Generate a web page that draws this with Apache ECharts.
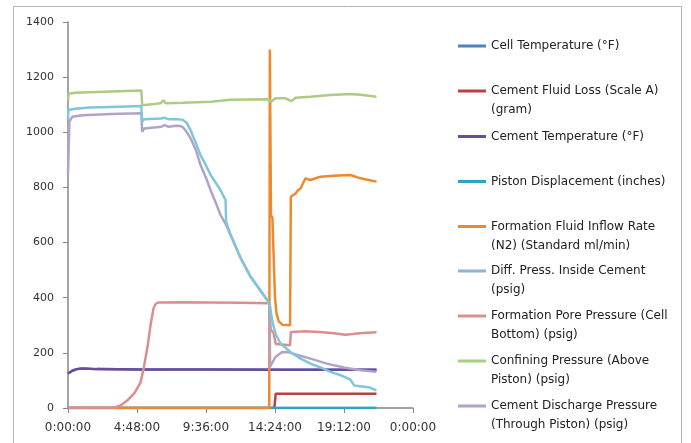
<!DOCTYPE html>
<html><head><meta charset="utf-8">
<script src="https://cdn.jsdelivr.net/npm/echarts@6/dist/echarts.min.js"></script>
<style>html,body{margin:0;padding:0;background:#fff}#c{width:691px;height:443px}</style>
</head><body><div id="c"></div>
<script>
// x values are elapsed hours
const xTickLabels = ['0:00:00','4:48:00','9:36:00','14:24:00','19:12:00','0:00:00'];
const yTicks = [0,200,400,600,800,1000,1200,1400];

const legendNames = [
  'Cell Temperature (°F)',
  'Cement Fluid Loss (Scale A)\n(gram)',
  'Cement Temperature (°F)',
  'Piston Displacement (inches)',
  'Formation Fluid Inflow Rate\n(N2) (Standard ml/min)',
  'Diff. Press. Inside Cement\n(psig)',
  'Formation Pore Pressure (Cell\nBottom) (psig)',
  'Confining Pressure (Above\nPiston) (psig)',
  'Cement Discharge Pressure\n(Through Piston) (psig)'
];

const cellTemperature = [[0,125],[0.3,135],[0.6,141],[1.0,143],[2,141],[5,140],[10,140],[15,139],[21.46,139]];
const cementFluidLoss = [[0,0],[14.3,0],[14.37,8],[14.45,52],[21.46,52]];
const cementTemperature = [[0,125],[0.3,135],[0.6,141],[1.0,143],[2,141],[5,140],[10,140],[15,139],[21.46,139]];
const pistonDisplacement = [[0,0],[21.46,0]];
const inflowRate = [[0,0],[14.0,0],[14.04,1300],[14.12,700],[14.22,690],[14.3,560],[14.4,400],[14.5,345],[14.65,315],[14.9,302],[15.45,300],[15.5,766],[15.6,770],[15.83,778],[16.0,790],[16.17,796],[16.35,815],[16.52,833],[16.87,827],[17.57,839],[18.5,842],[19.65,845],[20.35,833],[21.0,826],[21.46,821]];
const diffPressure = [[0,0],[21.46,0]];
const porePressure = [[0,0],[2.95,0],[3.3,3],[3.65,9],[4.14,28],[4.63,55],[5.04,92],[5.25,140],[5.53,221],[5.74,300],[5.95,362],[6.1,378],[6.3,383],[8,384],[10,383],[12,382],[14.0,380],[14.05,376],[14.1,285],[14.3,272],[14.45,232],[15.45,228],[15.5,276],[16.5,278],[17.5,276],[18.5,271],[19.3,266],[19.8,268],[20.5,272],[21.46,275]];
const confiningPressure = [[0,1115],[0.05,1140],[0.5,1143],[2,1146],[4,1150],[5.1,1152],[5.16,1099],[5.5,1100],[6.0,1103],[6.43,1105],[6.64,1116],[6.8,1105],[8,1107],[9,1109],[10,1111],[10.6,1114],[11.3,1118],[12.5,1119],[14.0,1120],[14.09,1110],[14.43,1123],[15.13,1123],[15.55,1113],[15.83,1125],[16.87,1129],[18.26,1135],[19.65,1139],[20.35,1136],[21.46,1129]];
const dischargePressure = [[0,850],[0.1,1040],[0.3,1056],[1,1062],[3,1066],[5.1,1069],[5.16,1002],[5.3,1014],[6.5,1020],[6.7,1026],[7.0,1020],[7.5,1024],[7.8,1023],[8.0,1018],[8.2,1005],[8.52,979],[8.9,935],[9.22,881],[9.6,835],[9.92,790],[10.3,742],[10.61,700],[10.96,668],[11.3,628],[12.0,544],[12.69,476],[13.39,425],[13.88,389],[14.02,378],[14.06,150],[14.43,185],[14.9,203],[15.4,202],[15.65,197],[16.87,179],[18.0,161],[19.2,147],[20.35,137],[21.46,131]];
const pistonPressure = [[0,1045],[0.03,1081],[0.5,1085],[1.5,1090],[3,1092],[5.1,1095],[5.16,1038],[5.3,1047],[6.5,1050],[6.7,1053],[7.0,1047],[7.5,1048],[8.0,1045],[8.25,1035],[8.52,1008],[8.9,960],[9.22,917],[9.6,880],[9.92,845],[10.3,815],[10.61,790],[10.96,754],[11.0,675],[11.3,630],[12.0,546],[12.69,478],[13.39,427],[13.88,391],[14.04,375],[14.2,318],[14.43,270],[14.78,234],[15.48,203],[16.17,179],[16.87,161],[17.57,147],[18.26,131],[18.96,119],[19.65,103],[19.8,90],[19.9,82],[20.35,79],[21.0,74],[21.46,64]];

const colors = ['#4F81BD','#B8423F','#6A4C9C','#33A3C2','#EB8A2F','#8FB1DC','#D9908C','#ABCC84','#B3A2C7','#80C6D9'];
const dataSets = [cellTemperature,cementFluidLoss,cementTemperature,pistonDisplacement,inflowRate,diffPressure,porePressure,confiningPressure,dischargePressure,pistonPressure];
const names = legendNames.map(n => n.replace('\n',' ')).concat(['Piston Pressure (psig)']);
const legendFirstLineY = [46,91,136.5,181.5,226.5,271,316,361,406];

const series = dataSets.map((d,i) => ({
  name: names[i], type:'line', data:d, symbol:'none', showSymbol:false,
  lineStyle:{color:colors[i], width:2.5}, itemStyle:{color:colors[i]},
  z: i===5 ? 1 : 2, animation:false
}));

const legends = legendNames.map((ln,i) => {
  const two = ln.indexOf('\n') >= 0;
  return {
    data:[names[i]], left:458, top: legendFirstLineY[i] - (two ? 28.5 : 9.5),
    orient:'vertical', padding:0, itemWidth:28, itemHeight:3, icon:'rect',
    selectedMode:false, formatter: () => (two ? '\u00a0\n' + ln : ln),
    textStyle:{fontFamily:'DejaVu Sans', fontSize:12, color:'#222', lineHeight:19}
  };
});

const chart = echarts.init(document.getElementById('c'), null, {renderer:'canvas'});
chart.setOption({
  animation:false,
  backgroundColor:'#fff',
  grid:{left:68, right:278, top:22, bottom:35},
  xAxis:{type:'value', min:0, max:24, interval:4.8,
    axisLine:{show:true, lineStyle:{color:'#868686', width:1.5}},
    axisTick:{show:true, length:5, lineStyle:{color:'#868686'}},
    splitLine:{show:false},
    axisLabel:{margin:14, fontFamily:'DejaVu Sans', fontSize:12, color:'#333',
      formatter: v => xTickLabels[Math.round(v/4.8)]}},
  yAxis:{type:'value', min:yTicks[0], max:yTicks[yTicks.length-1], interval:200,
    axisLine:{show:true, lineStyle:{color:'#868686', width:1.5}},
    axisTick:{show:true, length:5, lineStyle:{color:'#868686'}},
    splitLine:{show:false},
    axisLabel:{margin:14, fontFamily:'DejaVu Sans', fontSize:11, color:'#333',
      formatter: v => String(v)}},
  legend: legends,
  graphic:[{type:'rect', shape:{x:13.5, y:6.5, width:668, height:460}, style:{fill:'none', stroke:'#b4b4b4', lineWidth:1}, silent:true}],
  series: series
});
</script></body></html>
